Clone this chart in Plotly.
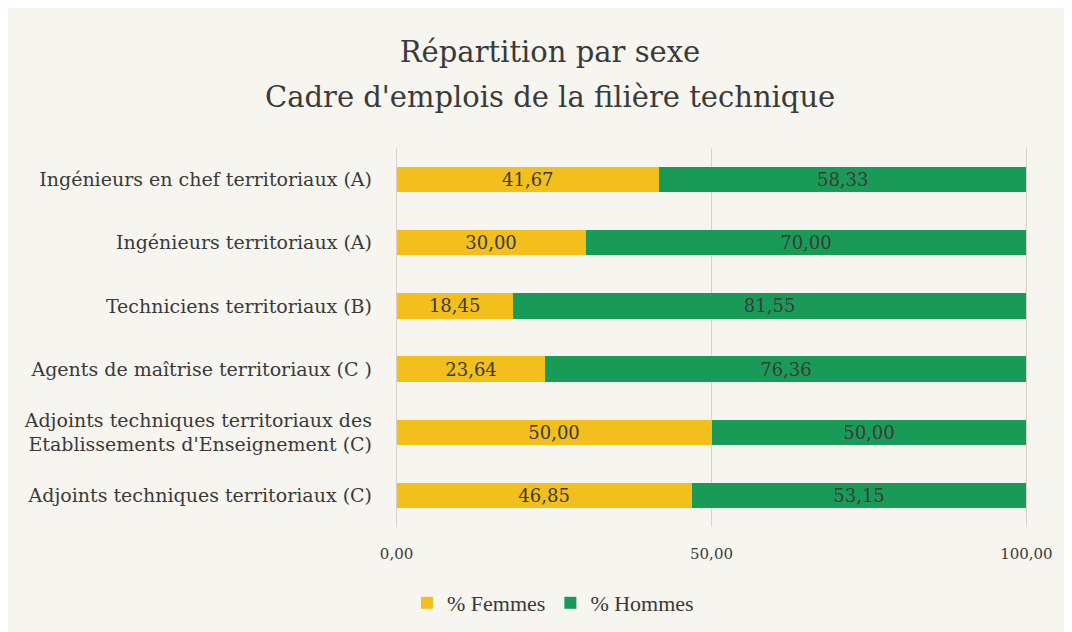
import plotly.graph_objects as go

categories = [
    "Ingénieurs en chef territoriaux (A)",
    "Ingénieurs territoriaux (A)",
    "Techniciens territoriaux (B)",
    "Agents de maîtrise territoriaux (C )",
    "Adjoints techniques territoriaux des<br>Etablissements d'Enseignement (C)",
    "Adjoints techniques territoriaux (C)",
]
femmes = [41.67, 30.00, 18.45, 23.64, 50.00, 46.85]
hommes = [58.33, 70.00, 81.55, 76.36, 50.00, 53.15]
x_ticks = [0, 50, 100]
title_line1 = "Répartition par sexe"
title_line2 = "Cadre d'emplois de la filière technique"

FONT = "DejaVu Serif"
LEG_FONT = "Liberation Serif"
BG = "#f7f5ef"
YELLOW = "#f2bf1d"
GREEN = "#1a9a57"
TEXT = "#3a3a3a"

W, H = 1064, 624  # page body has an 8px margin
ML, MR, MT, MB = 387, 44, 140, 105
PW, PH = W - ML - MR, H - MT - MB

fig = go.Figure()
for name, vals, col in (("% Femmes", femmes, YELLOW), ("% Hommes", hommes, GREEN)):
    fig.add_trace(go.Bar(
        y=categories, x=vals, name=name, orientation="h",
        marker=dict(color=col, line=dict(width=0)),
        texttemplate="%{x:.2f}", textposition="inside", insidetextanchor="middle",
        textfont=dict(family=FONT, size=18, color=TEXT), constraintext="none",
    ))

fig.update_layout(
    width=W, height=H,
    barmode="stack", bargap=0.6,
    separators=", ",
    paper_bgcolor=BG, plot_bgcolor=BG,
    margin=dict(l=ML, r=MR, t=MT, b=MB),
    font=dict(family=FONT, color=TEXT),
    title=dict(
        text=title_line1,
        x=542 / W, xanchor="center", xref="container",
        y=1 - 44 / H, yanchor="middle", yref="container",
        font=dict(family=FONT, size=29, color=TEXT),
    ),
    xaxis=dict(
        range=[-0.25, 100.25], tickvals=x_ticks, tickformat=".2f",
        showgrid=True, gridcolor="#d6d4ce", gridwidth=1,
        zeroline=False, showline=False,
        tickfont=dict(family=FONT, size=15, color=TEXT),
        ticklabelstandoff=16,
    ),
    yaxis=dict(
        range=[5.5, -0.5], showgrid=False, zeroline=False, showline=False,
        tickfont=dict(family=FONT, size=19, color=TEXT),
        ticklabelstandoff=22,
    ),
    legend=dict(
        orientation="h", traceorder="normal",
        xref="container", x=545 / W, xanchor="center",
        yref="container", y=1 - 595 / H, yanchor="middle",
        font=dict(family=LEG_FONT, size=22, color=TEXT),
        bgcolor="rgba(0,0,0,0)",
    ),
    showlegend=True,
)

fig.add_annotation(
    text=title_line2, showarrow=False,
    xref="paper", yref="paper",
    x=(542 - ML) / PW, y=(H - MB - 89) / PH,
    xanchor="center", yanchor="middle",
    font=dict(family=FONT, size=29, color=TEXT),
)

fig.write_html("out.html")
